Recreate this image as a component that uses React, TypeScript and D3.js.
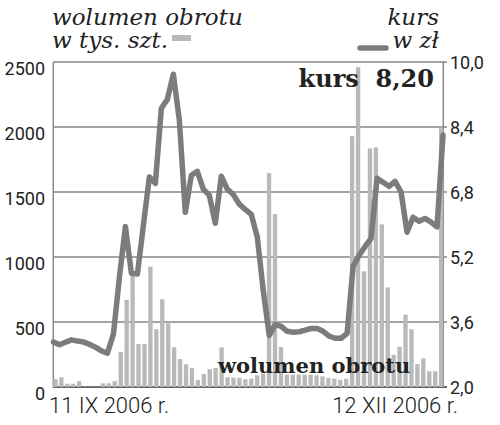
import React from "react";
import * as d3 from "d3";

const volume: number[] = [
  60, 75, 25, 25, 45, 3, 3, 3, 28, 28, 45, 270, 670, 875, 330, 330, 925, 445, 675, 490,
  305, 215, 175, 145, 55, 100, 137, 146, 305, 75, 72, 70, 60, 65, 90, 103, 1645, 1330, 308, 95,
  95, 95, 95, 95, 90, 82, 70, 65, 55, 63, 1930, 2460, 890, 1835, 1843, 1251, 766, 247, 310, 557,
  444, 176, 220, 121, 121, 1990,
];

const kurs: number[] = [
  3.11, 3.04, 3.1, 3.16, 3.13, 3.11, 3.05, 2.98, 2.89, 2.83, 3.3, 4.7, 5.95, 4.8, 4.78, 5.98,
  7.17, 7.01, 8.86, 9.08, 9.7, 8.57, 6.3, 7.21, 7.31, 6.87, 6.72, 6.03, 7.19, 6.87, 6.74, 6.5,
  6.37, 6.25, 5.7, 4.38, 3.27, 3.54, 3.49, 3.37, 3.35, 3.36, 3.4, 3.44, 3.44, 3.37, 3.25, 3.2,
  3.2, 3.32, 4.97, 5.24, 5.46, 5.66, 7.14, 7.04, 6.94, 7.06, 6.8, 5.81, 6.18, 6.08, 6.15, 6.06,
  5.94, 8.2,
];

const volTicks: number[] = [0, 500, 1000, 1500, 2000, 2500];
const kursTicks: number[] = [2.0, 3.6, 5.2, 6.8, 8.4, 10.0];
const kursTickLabels: string[] = ["2,0", "3,6", "5,2", "6,8", "8,4", "10,0"];
const dateLabels: string[] = ["11 IX 2006 r.", "12 XII 2006 r."];

const W = 500;
const H = 425;
const X0 = 53.3;
const X1 = 443.3;
const Y0 = 387;
const Y1 = 62;

const BAR = "#b9b9b9";
const LINE = "#7c7c7c";
const TEXT = "#222";

export default function App() {
  const idx = volume.map((_, i) => i);
  const xBand = d3.scaleBand<number>().domain(idx).range([X0, X1]).paddingInner(0.27).paddingOuter(0);
  const xPoint = d3.scalePoint<number>().domain(idx).range([X0 + 0.2, X1 - 0.3]);
  const yVol = d3.scaleLinear().domain([0, 2500]).range([Y0, Y1]);
  const yKurs = d3.scaleLinear().domain([2, 10]).range([Y0, Y1]);
  const line = d3
    .line<number>()
    .x((_, i) => xPoint(i) as number)
    .y((d) => yKurs(d));

  const sans = "Roboto, 'DejaVu Sans', sans-serif";
  const serif = "'DejaVu Serif', serif";

  return (
    <svg width={W} height={H} style={{ position: "absolute", left: 0, top: 0, background: "#fff" }}>
      {/* legend */}
      <text x={52} y={25} fontFamily={serif} fontStyle="italic" fontSize={23} fill={TEXT}>
        wolumen obrotu
      </text>
      <text x={52} y={48} fontFamily={serif} fontStyle="italic" fontSize={23} fill={TEXT}>
        w tys. szt.
      </text>
      <rect x={172} y={35} width={19} height={6} fill={BAR} />
      <text x={439} y={25} textAnchor="end" fontFamily={serif} fontStyle="italic" fontSize={23} fill={TEXT}>
        kurs
      </text>
      <text x={439} y={48} textAnchor="end" fontFamily={serif} fontStyle="italic" fontSize={23} fill={TEXT}>
        w zł
      </text>
      <line x1={360} x2={386} y1={48} y2={48} stroke={LINE} strokeWidth={5.5} strokeLinecap="round" />

      {/* gridlines */}
      {volTicks.map((t) => (
        <line key={"g" + t} x1={X0} x2={447} y1={yVol(t)} y2={yVol(t)} stroke={t === 0 ? "#333" : "#4a4a4a"} strokeWidth={t === 0 ? 1.5 : 1.2} />
      ))}
      {/* axes */}
      <line x1={X0} x2={X0} y1={Y1} y2={Y0 + 1} stroke="#888" strokeWidth={1.5} />
      <line x1={X1} x2={X1} y1={Y1} y2={Y0} stroke="#888" strokeWidth={1.5} />

      {/* left tick labels */}
      {volTicks.map((t) => (
        <text key={"l" + t} x={45} y={yVol(t) + 12.5} textAnchor="end" fontFamily={sans} fontWeight={400} fontSize={18} fill={TEXT}>
          {t}
        </text>
      ))}
      {/* right tick labels */}
      {kursTicks.map((t, i) => (
        <text key={"r" + t} x={450} y={yKurs(t) + 6.5} fontFamily={sans} fontWeight={400} fontSize={18} fill={TEXT}>
          {kursTickLabels[i]}
        </text>
      ))}

      {/* bars */}
      {volume.map((v, i) => (
        <rect key={"b" + i} x={xBand(i)} y={yVol(v)} width={xBand.bandwidth()} height={Y0 - yVol(v)} fill={BAR} />
      ))}

      {/* line */}
      <path d={line(kurs) || ""} fill="none" stroke={LINE} strokeWidth={5.5} strokeLinejoin="round" strokeLinecap="round" />

      {/* annotations */}
      <text x={434} y={87} textAnchor="end" fontFamily={serif} fontWeight="bold" fontSize={24} fill={TEXT}>
        kurs{"\u00a0\u00a0"}8,20
      </text>
      <text x={218} y={373} fontFamily={serif} fontWeight="bold" fontSize={21} fill={TEXT}>
        wolumen obrotu
      </text>

      {/* date labels */}
      <text x={49} y={413} fontFamily={sans} fontWeight={300} fontSize={22} fill={TEXT}>
        {dateLabels[0]}
      </text>
      <text x={458} y={413} textAnchor="end" fontFamily={sans} fontWeight={300} fontSize={22} fill={TEXT}>
        {dateLabels[1]}
      </text>
    </svg>
  );
}
